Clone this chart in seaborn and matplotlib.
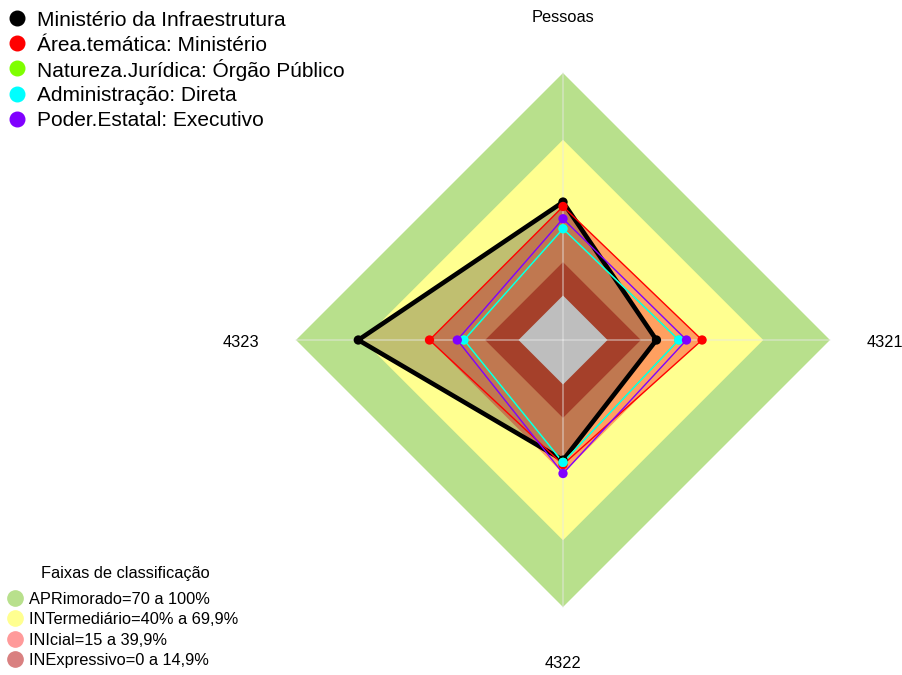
import numpy as np
import pandas as pd
import matplotlib
matplotlib.use("Agg")
import matplotlib.pyplot as plt
import seaborn as sns
from matplotlib.patches import Polygon
from matplotlib.lines import Line2D

# --- Data ---
eixos = ["Pessoas", "4323", "4322", "4321"]   # top, left, bottom, right (counter-clockwise)
angulos = np.deg2rad([90, 180, 270, 0])

series = ["Ministério da Infraestrutura", "Área.temática: Ministério",
          "Natureza.Jurídica: Órgão Público", "Administração: Direta",
          "Poder.Estatal: Executivo"]
ministerio = [42, 72, 34, 22]
area_tematica = [40, 40, 36, 42.5]
natureza = [30, 24.5, 35, 32]
administracao = [30, 24.5, 35, 32]
poder = [34.5, 27.5, 40, 35.5]
cores_series = ["#000000", "#ff0000", "#7fff00", "#00ffff", "#8000ff"]

faixas = ["APRimorado=70 a 100%", "INTermediário=40% a 69,9%",
          "INIcial=15 a 39,9%", "INExpressivo=0 a 14,9%"]
limites_faixas = [100, 70, 40, 15]
cores_faixas = ["#b8e08c", "#ffff90", "#ff9a9a", "#d98080"]

# --- Setup ---
sns.set_style("white")
plt.rcParams["font.family"] = ["Liberation Sans", "DejaVu Sans"]
plt.rcParams["text.color"] = "black"

W, H, cx, cy, R = 902, 675, 563, 340, 267
fig = plt.figure(figsize=(W / 100, H / 100), dpi=100)
ax = fig.add_axes([0, 0, 1, 1])
ax.set_xlim(-cx / R, (W - cx) / R)
ax.set_ylim(-(H - cy) / R, cy / R)
ax.axis("off")


def raio(v):
    # fmsb style: zero sits at 1/6 of the radius
    return (1 + 5 * np.asarray(v, dtype=float) / 100) / 6


def xy(v):
    r = raio(v)
    return np.column_stack([r * np.cos(angulos), r * np.sin(angulos)])


def losango(v, **kw):
    p = Polygon(xy([v] * 4), closed=True, **kw)
    ax.add_patch(p)
    return p


def fx(px):
    return px / W


def fy(py):
    return 1 - py / H


# --- Background bands and fills ---
losango(100, facecolor="#b8e08c", edgecolor="none", zorder=1)
losango(70, facecolor="#ffff90", edgecolor="none", zorder=1)
ax.add_patch(Polygon(xy(ministerio), closed=True, facecolor="#c0bf70",
                     edgecolor="none", zorder=2))
ax.add_patch(Polygon(xy(area_tematica), closed=True, facecolor="#ffa060",
                     edgecolor="none", zorder=3))
faixa_ini = losango(40, facecolor="#ffa060", edgecolor="none", zorder=3)
marrom = Polygon(xy(ministerio), closed=True, facecolor="#c07850",
                 edgecolor="none", zorder=4)
ax.add_patch(marrom)
marrom.set_clip_path(faixa_ini)
losango(15, facecolor="#a5402a", edgecolor="none", zorder=5)
losango(0, facecolor="#bebebe", edgecolor="none", zorder=6)

# spokes
for a in angulos:
    ax.plot([0, np.cos(a)], [0, np.sin(a)], color="#e8e8e8", alpha=0.5,
            lw=1.2, zorder=7)

# --- Series ---
valores = [ministerio, area_tematica, natureza, administracao, poder]
larguras = [3.3, 1.0, 1.0, 1.0, 1.0]
for nome, vals, cor, lw in zip(series, valores, cores_series, larguras):
    pts = xy(vals)
    fechado = np.vstack([pts, pts[:1]])
    ax.plot(fechado[:, 0], fechado[:, 1], color=cor, lw=lw, zorder=8)

pontos = pd.DataFrame({
    "x": np.concatenate([xy(v)[:, 0] for v in valores]),
    "y": np.concatenate([xy(v)[:, 1] for v in valores]),
    "serie": np.repeat(series, 4),
})
sns.scatterplot(data=pontos, x="x", y="y", hue="serie", hue_order=series,
                palette=cores_series, s=45, linewidth=0, legend=False,
                ax=ax, zorder=9)

# --- Axis labels ---
fs = 11.8
pos_rotulos = [(563, 18), (241, 342), (563, 664), (885, 342)]
for nome, (px, py) in zip(eixos, pos_rotulos):
    fig.text(fx(px), fy(py), nome, ha="center", va="center", fontsize=fs)

# --- Legend: series ---
for i, (nome, cor) in enumerate(zip(series, cores_series)):
    py = 18 + i * 25.2
    fig.add_artist(Line2D([fx(17)], [fy(py)], marker="o", color=cor,
                          markersize=10.5, ls="none",
                          transform=fig.transFigure))
    fig.text(fx(37), fy(py), nome, ha="left", va="center_baseline",
             fontsize=15)

# --- Legend: bands ---
fig.text(fx(125), fy(572), "Faixas de classificação", ha="center",
         va="center_baseline", fontsize=11.8)
for i, (nome, cor) in enumerate(zip(faixas, cores_faixas)):
    py = 598 + i * 20.3
    fig.add_artist(Line2D([fx(15)], [fy(py)], marker="o", color=cor,
                          markersize=11, ls="none",
                          transform=fig.transFigure))
    fig.text(fx(29), fy(py), nome, ha="left", va="center_baseline",
             fontsize=11.8)

fig.savefig("out.png", dpi=100)
